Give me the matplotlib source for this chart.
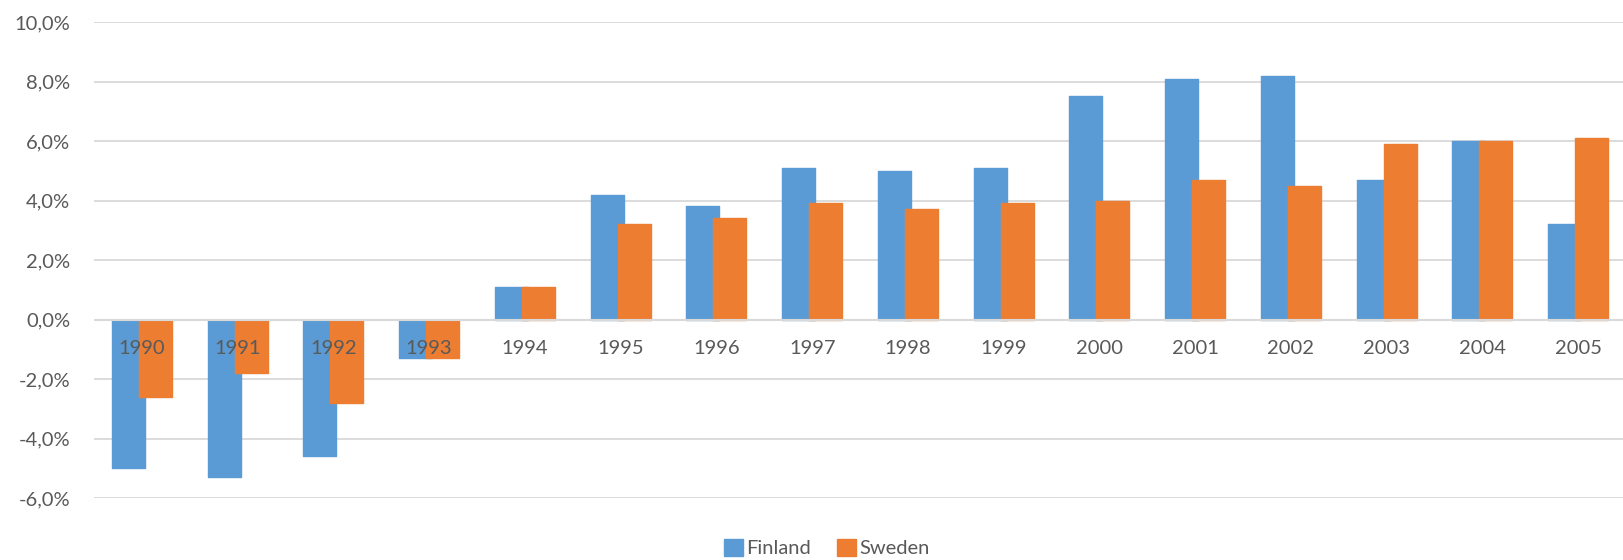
import numpy as np
import matplotlib.pyplot as plt
from matplotlib.ticker import FuncFormatter
from matplotlib.transforms import offset_copy

plt.rcParams['font.family'] = ['Lato', 'DejaVu Sans']

years = ['1990', '1991', '1992', '1993', '1994', '1995', '1996', '1997',
         '1998', '1999', '2000', '2001', '2002', '2003', '2004', '2005']
finland = [-5.0, -5.3, -4.6, -1.3, 1.1, 4.2, 3.8, 5.1,
           5.0, 5.1, 7.5, 8.1, 8.2, 4.7, 6.0, 3.2]
sweden = [-2.6, -1.8, -2.8, -1.3, 1.1, 3.2, 3.4, 3.9,
          3.7, 3.9, 4.0, 4.7, 4.5, 5.9, 6.0, 6.1]

blue = '#5B9BD5'
orange = '#ED7D31'
grid_col = '#D9D9D9'
text_col = '#595959'

fig = plt.figure(figsize=(16.23, 5.6), dpi=100)
ax = fig.add_axes([94 / 1623, 1 - 498 / 560, 1532 / 1623, 476 / 560])

x = np.arange(len(years))
w = 0.344
off = 0.141
ax.bar(x - off, finland, w, color=blue, edgecolor=blue, linewidth=1,
       joinstyle='round', label='Finland', zorder=2)
ax.bar(x + off, sweden, w, color=orange, edgecolor=orange, linewidth=1,
       joinstyle='round', label='Sweden', zorder=3)

ax.set_xlim(-0.5, len(years) - 0.5)
ax.set_ylim(-6, 10)
ax.set_yticks(np.arange(-6, 11, 2))
ax.yaxis.set_major_formatter(FuncFormatter(lambda v, p: f'{v:.1f}%'.replace('.', ',')))
ax.grid(axis='y', color=grid_col, linewidth=1.3, zorder=0)
ax.set_axisbelow(True)
for s in ax.spines.values():
    s.set_visible(False)
ax.tick_params(axis='y', length=0, pad=17, labelsize=14.5, labelcolor=text_col)

# zero axis line over the bars, year labels just below it (on top of bars)
ax.axhline(0, color=grid_col, linewidth=1.5, zorder=4)
ax.set_xticks([])
lab_tr = offset_copy(ax.transData, fig=fig, x=0, y=-29.5, units='dots')
for xi, yr in zip(x, years):
    ax.text(xi, 0, yr, transform=lab_tr, ha='center', va='center',
            fontsize=14.5, color=text_col, zorder=5)

fig.legend(loc='center', bbox_to_anchor=(827 / 1623, 1 - 548 / 560), ncol=2,
           frameon=False, fontsize=14.5, labelcolor=text_col,
           handlelength=0.95, handleheight=0.95, handletextpad=0.15,
           columnspacing=1.3)

fig.savefig('out.png', dpi=100)
